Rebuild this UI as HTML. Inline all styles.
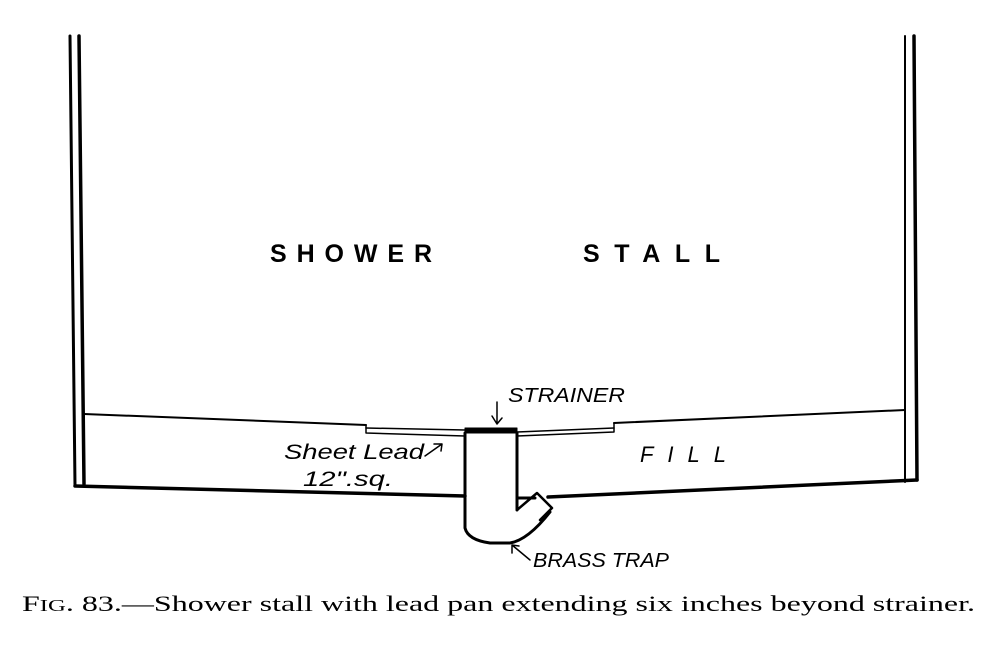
<!DOCTYPE html>
<html><head><meta charset="utf-8"><style>
html,body{margin:0;padding:0;background:#fff;}
svg{display:block}
</style></head><body>
<svg width="1001" height="654" viewBox="0 0 1001 654" xmlns="http://www.w3.org/2000/svg">
<g fill="none" stroke="#000" stroke-linecap="round" stroke-linejoin="round">
<path d="M70 36 L75 486" stroke-width="3"/>
<path d="M79 36 L84 484" stroke-width="3.5"/>
<path d="M905 36 L905 482" stroke-width="2"/>
<path d="M914 36 L917 480" stroke-width="3.5"/>
<path d="M84 414 L366 425" stroke-width="2"/>
<path d="M614 423 L905 410" stroke-width="2"/>
<path d="M366 428 L465 430" stroke-width="1.5"/>
<path d="M517 432 L614 428" stroke-width="1.5"/>
<path d="M366 425 L366 433 L465 436" stroke-width="1.5"/>
<path d="M517 436 L614 432 L614 423" stroke-width="1.5"/>
<rect x="465" y="428" width="52" height="5" fill="#000" stroke-width="1"/>
<path d="M75 486 L465 496" stroke-width="3.5"/>
<path d="M517 498 L535 498" stroke-width="3"/>
<path d="M548 497 L700 490 L917 480" stroke-width="3.5"/>
<path d="M465 433 L465 528 Q468 540 490 543 L510 543 Q528 540 550 512" stroke-width="3"/>
<path d="M517 433 L517 510" stroke-width="3"/>
<path d="M517 510 L537 493 L552 508 L540 520" stroke-width="2.5"/>
<path d="M497 402 L497 424 M492 416 L497 424 L502 418" stroke-width="1.5"/>
<path d="M425 456 L442 444 M434 444 L442 444 L441 451" stroke-width="1.5"/>
<path d="M530 560 L512 545 M512 553 L512 545 L519 546" stroke-width="1.5"/>
</g>
<g font-family="Liberation Sans, sans-serif" fill="#000">
<text x="270" y="262" font-size="25" font-weight="bold" textLength="162" lengthAdjust="spacing">SHOWER</text>
<text x="583" y="262" font-size="25" font-weight="bold" textLength="137" lengthAdjust="spacing">STALL</text>
<text x="640" y="462" font-size="22" font-style="italic" textLength="86" lengthAdjust="spacing">FILL</text>
<text x="508" y="402" font-size="20" font-style="italic" textLength="117" lengthAdjust="spacingAndGlyphs">STRAINER</text>
<text x="284" y="459" font-size="21" font-style="italic" textLength="140" lengthAdjust="spacingAndGlyphs">Sheet Lead</text>
<text x="303" y="486" font-size="21" font-style="italic" textLength="90" lengthAdjust="spacingAndGlyphs">12".sq.</text>
<text x="533" y="567" font-size="20" font-style="italic" textLength="136" lengthAdjust="spacingAndGlyphs">BRASS TRAP</text>
</g>
<text x="22" y="611" font-family="Liberation Serif, serif" font-size="22" textLength="953" lengthAdjust="spacingAndGlyphs">F<tspan font-size="17">IG</tspan>. 83.—Shower stall with lead pan extending six inches beyond strainer.</text>
</svg>
</body></html>
